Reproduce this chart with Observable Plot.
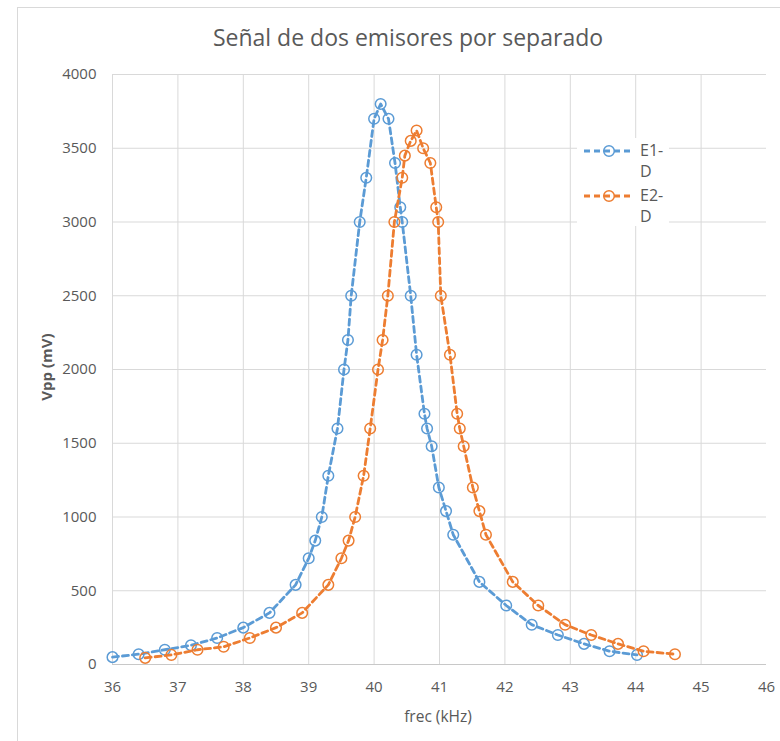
<!DOCTYPE html>
<html>
<head>
<meta charset="utf-8">
<script src="https://cdn.jsdelivr.net/npm/d3@7"></script>
<script src="https://cdn.jsdelivr.net/npm/@observablehq/plot@0.6"></script>
<style>
  html, body { margin: 0; padding: 0; background: #ffffff; }
  #wrap { position: relative; width: 780px; height: 741px; overflow: hidden; font-family: "Open Sans", sans-serif; color: #595959; }
  #frame { position: absolute; left: 17px; top: 7px; width: 900px; height: 900px; border: 1px solid #d9d9d9; box-sizing: border-box; }
  #title { position: absolute; left: 17px; width: 782px; top: 23px; text-align: center; font-size: 23px; line-height: 28px; color: #595959; }
  #chart { position: absolute; left: 0; top: 60px; }
  #xlab { position: absolute; left: 338px; width: 200px; top: 704px; text-align: center; font-size: 15.5px; line-height: 24px; }
  #ylab { position: absolute; left: 46px; top: 367px; width: 0; height: 0; }
  #ylab span { position: absolute; transform: translate(-50%, -50%) rotate(-90deg); white-space: nowrap; font-size: 15px; font-weight: bold; line-height: 20px; }
  #legend { position: absolute; left: 577px; top: 138px; width: 92px; height: 88px; background: #ffffff; font-size: 16px; color: #595959; }
  .sym { position: absolute; left: 7px; width: 50px; height: 14px; }
  .lab { position: absolute; left: 63px; line-height: 21px; }
</style>
</head>
<body>
<div id="wrap">
  <div id="frame"></div>
  <div id="title"></div>
  <div id="chart"></div>
  <div id="xlab"></div>
  <div id="ylab"><span></span></div>
  <div id="legend"></div>
</div>
<script>
// --- data ---
const freqE1 = [36.0, 36.4, 36.8, 37.2, 37.6, 38.0, 38.4, 38.8, 39.0, 39.1, 39.2, 39.3, 39.44, 39.54, 39.6, 39.65, 39.78, 39.88, 40.0, 40.1, 40.22, 40.32, 40.4, 40.43, 40.56, 40.65, 40.77, 40.81, 40.88, 40.99, 41.1, 41.21, 41.61, 42.02, 42.41, 42.81, 43.21, 43.6, 44.02];
const vppE1  = [50, 70, 100, 130, 180, 250, 350, 540, 720, 840, 1000, 1280, 1600, 2000, 2200, 2500, 3000, 3300, 3700, 3800, 3700, 3400, 3100, 3000, 2500, 2100, 1700, 1600, 1480, 1200, 1040, 880, 560, 400, 270, 200, 140, 90, 65];
const freqE2 = [36.5, 36.9, 37.3, 37.7, 38.1, 38.5, 38.9, 39.3, 39.5, 39.61, 39.71, 39.84, 39.94, 40.06, 40.13, 40.21, 40.31, 40.43, 40.47, 40.56, 40.65, 40.75, 40.86, 40.95, 40.98, 41.02, 41.16, 41.27, 41.31, 41.37, 41.51, 41.61, 41.71, 42.12, 42.51, 42.92, 43.32, 43.73, 44.12, 44.6];
const vppE2  = [45, 65, 100, 120, 180, 250, 350, 540, 720, 840, 1000, 1280, 1600, 2000, 2200, 2500, 3000, 3300, 3450, 3550, 3620, 3500, 3400, 3100, 3000, 2500, 2100, 1700, 1600, 1480, 1200, 1040, 880, 560, 400, 270, 200, 140, 90, 70];
const seriesNames = ["E1-D", "E2-D"];
const seriesColors = ["#5b9bd5", "#ed7d31"];
const xTicks = [36, 37, 38, 39, 40, 41, 42, 43, 44, 45, 46];
const yTicks = [0, 500, 1000, 1500, 2000, 2500, 3000, 3500, 4000];
const titleText = "Señal de dos emisores por separado";
const xLabel = "frec (kHz)";
const yLabel = "Vpp (mV)";

const e1 = freqE1.map((f, i) => ({f, v: vppE1[i]}));
const e2 = freqE2.map((f, i) => ({f, v: vppE2[i]}));
const dash = "6,4";

document.getElementById("title").textContent = titleText;
document.getElementById("xlab").textContent = xLabel;
document.querySelector("#ylab span").textContent = yLabel;

const chart = Plot.plot({
  width: 780,
  height: 681,
  marginTop: 14,
  marginBottom: 77,
  marginLeft: 112,
  marginRight: 14,
  style: {fontFamily: "'Open Sans', sans-serif", fontSize: "15px", color: "#595959", background: "transparent", overflow: "visible"},
  x: {domain: [36, 46]},
  y: {domain: [0, 4000]},
  marks: [
    Plot.gridX(xTicks.slice(0, -1), {stroke: "#d9d9d9", strokeOpacity: 1, strokeWidth: 1}),
    Plot.gridY(yTicks.slice(1), {stroke: "#d9d9d9", strokeOpacity: 1, strokeWidth: 1}),
    Plot.ruleY([0], {stroke: "#c8c8c8", strokeWidth: 1.2}),
    Plot.axisX(xTicks, {tickSize: 0, tickPadding: 17, fontSize: 15, fill: "#595959", label: null, tickFormat: d => String(d)}),
    Plot.axisY(yTicks, {tickSize: 0, tickPadding: 16, fontSize: 15, fill: "#595959", label: null, tickFormat: d => String(d)}),
    Plot.line(e1, {x: "f", y: "v", stroke: seriesColors[0], strokeWidth: 2.8, strokeDasharray: dash}),
    Plot.dot(e1, {x: "f", y: "v", r: 5.3, stroke: seriesColors[0], strokeWidth: 1.5, fill: "none"}),
    Plot.line(e2, {x: "f", y: "v", stroke: seriesColors[1], strokeWidth: 2.8, strokeDasharray: dash}),
    Plot.dot(e2, {x: "f", y: "v", r: 5.3, stroke: seriesColors[1], strokeWidth: 1.5, fill: "none"})
  ]
});
document.getElementById("chart").appendChild(chart);

// legend
const legend = document.getElementById("legend");
const rowTops = [12.7, 57.7];
seriesNames.forEach((name, i) => {
  const c = rowTops[i];
  const ns = "http://www.w3.org/2000/svg";
  const s = document.createElementNS(ns, "svg");
  s.setAttribute("class", "sym");
  s.style.top = (c - 7) + "px";
  s.setAttribute("width", 50); s.setAttribute("height", 14);
  const l = document.createElementNS(ns, "line");
  l.setAttribute("x1", 0); l.setAttribute("x2", 48); l.setAttribute("y1", 7); l.setAttribute("y2", 7);
  l.setAttribute("stroke", seriesColors[i]); l.setAttribute("stroke-width", 2.8); l.setAttribute("stroke-dasharray", dash);
  s.appendChild(l);
  const ci = document.createElementNS(ns, "circle");
  ci.setAttribute("cx", 25); ci.setAttribute("cy", 7); ci.setAttribute("r", 5.3);
  ci.setAttribute("fill", "none"); ci.setAttribute("stroke", seriesColors[i]); ci.setAttribute("stroke-width", 1.5);
  s.appendChild(ci);
  legend.appendChild(s);
  const parts = name.split("-");
  const t = document.createElement("div");
  t.className = "lab";
  t.style.top = (c - 10.5) + "px";
  t.innerHTML = parts[0] + "-<br>" + parts[1];
  legend.appendChild(t);
});
</script>
</body>
</html>
